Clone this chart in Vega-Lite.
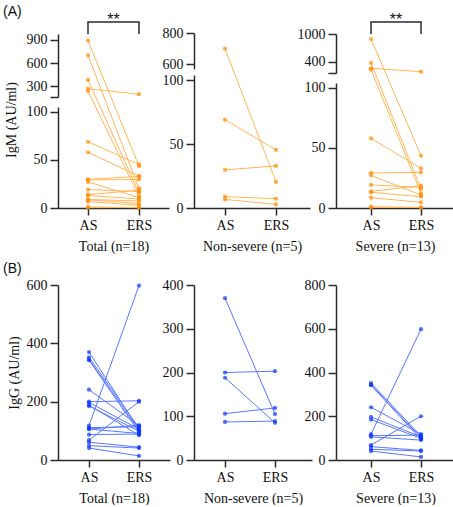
{
  "$schema": "https://vega.github.io/schema/vega-lite/v6.json",
  "background": "white",
  "padding": {"left": 3, "top": 4, "right": 0, "bottom": 0},
  "bounds": "flush",
  "columns": 3,
  "spacing": {"row": 77, "column": 24},
  "datasets": {
    "igm": [
      {"g":"NS","id":"N1","t":"AS","v":700},{"g":"NS","id":"N1","t":"ERS","v":20.4},
      {"g":"NS","id":"N2","t":"AS","v":69},{"g":"NS","id":"N2","t":"ERS","v":45.4},
      {"g":"NS","id":"N3","t":"AS","v":29.8},{"g":"NS","id":"N3","t":"ERS","v":32.9},
      {"g":"NS","id":"N4","t":"AS","v":8.9},{"g":"NS","id":"N4","t":"ERS","v":7.3},
      {"g":"NS","id":"N5","t":"AS","v":6.7},{"g":"NS","id":"N5","t":"ERS","v":2.8},
      {"g":"S","id":"S1","t":"AS","v":892},{"g":"S","id":"S1","t":"ERS","v":43.6},
      {"g":"S","id":"S2","t":"AS","v":380},{"g":"S","id":"S2","t":"ERS","v":15.8},
      {"g":"S","id":"S3","t":"AS","v":265},{"g":"S","id":"S3","t":"ERS","v":193},
      {"g":"S","id":"S4","t":"AS","v":235},{"g":"S","id":"S4","t":"ERS","v":12.2},
      {"g":"S","id":"S5","t":"AS","v":58},{"g":"S","id":"S5","t":"ERS","v":33.1},
      {"g":"S","id":"S6","t":"AS","v":29.2},{"g":"S","id":"S6","t":"ERS","v":29.7},
      {"g":"S","id":"S7","t":"AS","v":27.2},{"g":"S","id":"S7","t":"ERS","v":10.8},
      {"g":"S","id":"S8","t":"AS","v":19.2},{"g":"S","id":"S8","t":"ERS","v":17.2},
      {"g":"S","id":"S9","t":"AS","v":13.9},{"g":"S","id":"S9","t":"ERS","v":18.6},
      {"g":"S","id":"S10","t":"AS","v":13.1},{"g":"S","id":"S10","t":"ERS","v":9.4},
      {"g":"S","id":"S11","t":"AS","v":8.6},{"g":"S","id":"S11","t":"ERS","v":4.7},
      {"g":"S","id":"S12","t":"AS","v":1.1},{"g":"S","id":"S12","t":"ERS","v":0.3},
      {"g":"S","id":"S13","t":"AS","v":0.4},{"g":"S","id":"S13","t":"ERS","v":0.6}
    ],
    "igg": [
      {"g":"NS","id":"N1","t":"AS","v":370},{"g":"NS","id":"N1","t":"ERS","v":105},
      {"g":"NS","id":"N2","t":"AS","v":200},{"g":"NS","id":"N2","t":"ERS","v":203},
      {"g":"NS","id":"N3","t":"AS","v":188},{"g":"NS","id":"N3","t":"ERS","v":85},
      {"g":"NS","id":"N4","t":"AS","v":106},{"g":"NS","id":"N4","t":"ERS","v":119},
      {"g":"NS","id":"N5","t":"AS","v":87},{"g":"NS","id":"N5","t":"ERS","v":89},
      {"g":"S","id":"S1","t":"AS","v":352},{"g":"S","id":"S1","t":"ERS","v":110},
      {"g":"S","id":"S2","t":"AS","v":345},{"g":"S","id":"S2","t":"ERS","v":102},
      {"g":"S","id":"S3","t":"AS","v":342},{"g":"S","id":"S3","t":"ERS","v":95},
      {"g":"S","id":"S4","t":"AS","v":241},{"g":"S","id":"S4","t":"ERS","v":118},
      {"g":"S","id":"S5","t":"AS","v":197},{"g":"S","id":"S5","t":"ERS","v":106},
      {"g":"S","id":"S6","t":"AS","v":185},{"g":"S","id":"S6","t":"ERS","v":99},
      {"g":"S","id":"S7","t":"AS","v":118},{"g":"S","id":"S7","t":"ERS","v":598},
      {"g":"S","id":"S8","t":"AS","v":111},{"g":"S","id":"S8","t":"ERS","v":114},
      {"g":"S","id":"S9","t":"AS","v":106},{"g":"S","id":"S9","t":"ERS","v":91},
      {"g":"S","id":"S10","t":"AS","v":68},{"g":"S","id":"S10","t":"ERS","v":200},
      {"g":"S","id":"S11","t":"AS","v":61},{"g":"S","id":"S11","t":"ERS","v":44},
      {"g":"S","id":"S12","t":"AS","v":49},{"g":"S","id":"S12","t":"ERS","v":41},
      {"g":"S","id":"S13","t":"AS","v":41},{"g":"S","id":"S13","t":"ERS","v":14}
    ],
    "brk": [
      {"p":"Total","t":"AS","v":978,"o":1},{"p":"Total","t":"AS","v":1135,"o":2},
      {"p":"Total","t":"ERS","v":1135,"o":3},{"p":"Total","t":"ERS","v":978,"o":4},
      {"p":"Severe","t":"AS","v":1000,"o":1},{"p":"Severe","t":"AS","v":1257,"o":2},
      {"p":"Severe","t":"ERS","v":1257,"o":3},{"p":"Severe","t":"ERS","v":1000,"o":4}
    ],
    "stars": [
      {"p":"Total","t":"AS","v":1135,"s":"**"},
      {"p":"Severe","t":"AS","v":1257,"s":"**"}
    ]
  },
  "config": {
    "view": {"stroke": null},
    "font": "Liberation Serif",
    "style": {
      "guide-label": {"font": "Liberation Serif", "fontSize": 14, "fill": "#111111"},
      "guide-title": {"font": "Liberation Serif", "fontSize": 14, "fontWeight": "normal", "fill": "#111111"}
    },
    "axis": {"grid": false, "domainColor": "#2b2b2b", "domainWidth": 1.5, "tickColor": "#2b2b2b", "tickWidth": 1.5, "labelFont": "Liberation Serif", "labelFontSize": 14, "labelColor": "#111111", "titleFont": "Liberation Serif", "titleFontSize": 14, "titleFontWeight": "normal", "titleColor": "#111111"},
    "axisY": {"tickSize": 8, "labelPadding": 3, "titlePadding": 5},
    "axisX": {"tickSize": 7, "labelPadding": 3, "labelAngle": 0, "titlePadding": 7},
    "title": {"font": "Liberation Sans", "fontSize": 14, "fontWeight": "normal", "color": "#111111", "anchor": "start", "frame": "bounds"},
    "point": {"filled": true, "size": 18},
    "line": {"strokeWidth": 1}
  },
  "concat": [
    {
      "width": 111, "height": 175,
      "title": {"text": "(A)", "offset": -7, "dx": -1},
      "data": {"name": "igm"},
      "encoding": {
        "x": {"field": "t", "type": "nominal", "sort": ["AS","ERS"], "scale": {"type": "point", "padding": 0.588, "align": 0.5}, "axis": {"title": "Total (n=18)", "labelFont": "Liberation Serif", "labelFontSize": 14}}
      },
      "layer": [
        {"mark": {"type": "line", "color": "#FFB656"}, "encoding": {"detail": {"field": "id"}, "y": {"field": "v", "type": "quantitative", "scale": {"domain": [0,100,105,157,900], "range": [175,79,74,64,7], "nice": false, "zero": false}, "axis": null}}},
        {"mark": {"type": "point", "color": "#FF8A00"}, "encoding": {"y": {"field": "v", "type": "quantitative", "scale": {"domain": [0,100,105,157,900], "range": [175,79,74,64,7], "nice": false, "zero": false}, "axis": null}}},
        {"data": {"name": "brk"}, "transform": [{"filter": "datum.p == 'Total'"}], "mark": {"type": "line", "color": "#2b2b2b", "strokeWidth": 1.5}, "encoding": {"order": {"field": "o", "type": "quantitative"}, "y": {"field": "v", "type": "quantitative", "scale": {"domain": [0,100,105,157,900], "range": [175,79,74,64,7], "nice": false, "zero": false}, "axis": null}}},
        {"data": {"name": "stars"}, "transform": [{"filter": "datum.p == 'Total'"}], "mark": {"type": "text", "font": "Liberation Sans", "fontSize": 16, "dx": 25.5, "dy": 3, "baseline": "alphabetic", "align": "center", "color": "#111111"}, "encoding": {"text": {"field": "s"}, "y": {"field": "v", "type": "quantitative", "scale": {"domain": [0,100,105,157,900], "range": [175,79,74,64,7], "nice": false, "zero": false}, "axis": null}}},
        {"transform": [{"filter": "datum.v <= 100"}], "mark": {"type": "point", "opacity": 0}, "encoding": {"y": {"field": "v", "type": "quantitative", "scale": {"domain": [0,105], "range": [175,74], "nice": false, "zero": false}, "axis": {"orient": "left", "values": [0,50,100], "title": null, "labelFont": "Liberation Serif", "labelFontSize": 14}}}},
        {"transform": [{"filter": "datum.v >= 157"}], "mark": {"type": "point", "opacity": 0}, "encoding": {"y": {"field": "v", "type": "quantitative", "scale": {"domain": [157,978], "range": [64,1], "nice": false, "zero": false}, "axis": {"orient": "left", "values": [157,300,600,900], "labelExpr": "datum.value == 157 ? '' : datum.label", "title": null, "labelFont": "Liberation Serif", "labelFontSize": 14}}}},
        {"transform": [{"filter": "datum.v <= 100"}], "mark": {"type": "point", "opacity": 0}, "encoding": {"y": {"field": "v", "type": "quantitative", "scale": {"domain": [0,900], "range": [175,-2], "nice": false, "zero": false}, "axis": {"orient": "left", "labels": false, "ticks": false, "domain": false, "titlePadding": 40, "title": "IgM (AU/ml)"}}}}
      ],
      "resolve": {"scale": {"y": "independent"}}
    },
    {
      "width": 116, "height": 175,
      "data": {"name": "igm"},
      "transform": [{"filter": "datum.g == 'NS'"}],
      "encoding": {
        "x": {"field": "t", "type": "nominal", "sort": ["AS","ERS"], "scale": {"type": "point", "padding": 0.637, "align": 0.477}, "axis": {"title": "Non-severe (n=5)", "labelFont": "Liberation Serif", "labelFontSize": 14}}
      },
      "layer": [
        {"mark": {"type": "line", "color": "#FFB656"}, "encoding": {"detail": {"field": "id"}, "y": {"field": "v", "type": "quantitative", "scale": {"domain": [0,100,104,568,800], "range": [175,47,42,36,0], "nice": false, "zero": false}, "axis": null}}},
        {"mark": {"type": "point", "color": "#FF8A00"}, "encoding": {"y": {"field": "v", "type": "quantitative", "scale": {"domain": [0,100,104,568,800], "range": [175,47,42,36,0], "nice": false, "zero": false}, "axis": null}}},
        {"transform": [{"filter": "datum.v <= 100"}], "mark": {"type": "point", "opacity": 0}, "encoding": {"y": {"field": "v", "type": "quantitative", "scale": {"domain": [0,104], "range": [175,42], "nice": false, "zero": false}, "axis": {"orient": "left", "values": [0,50,100], "title": null, "labelFont": "Liberation Serif", "labelFontSize": 14}}}},
        {"transform": [{"filter": "datum.v >= 568"}], "mark": {"type": "point", "opacity": 0}, "encoding": {"y": {"field": "v", "type": "quantitative", "scale": {"domain": [568,800], "range": [36,0], "nice": false, "zero": false}, "axis": {"orient": "left", "values": [600,800], "title": null, "labelFont": "Liberation Serif", "labelFontSize": 14}}}}
      ],
      "resolve": {"scale": {"y": "independent"}}
    },
    {
      "width": 118, "height": 175,
      "data": {"name": "igm"},
      "transform": [{"filter": "datum.g == 'S'"}],
      "encoding": {
        "x": {"field": "t", "type": "nominal", "sort": ["AS","ERS"], "scale": {"type": "point", "padding": 0.68, "align": 0.515}, "axis": {"title": "Severe (n=13)", "labelFont": "Liberation Serif", "labelFontSize": 14}}
      },
      "layer": [
        {"mark": {"type": "line", "color": "#FFB656"}, "encoding": {"detail": {"field": "id"}, "y": {"field": "v", "type": "quantitative", "scale": {"domain": [0,100,104,164,1000], "range": [175,55,50,40,1], "nice": false, "zero": false}, "axis": null}}},
        {"mark": {"type": "point", "color": "#FF8A00"}, "encoding": {"y": {"field": "v", "type": "quantitative", "scale": {"domain": [0,100,104,164,1000], "range": [175,55,50,40,1], "nice": false, "zero": false}, "axis": null}}},
        {"data": {"name": "brk"}, "transform": [{"filter": "datum.p == 'Severe'"}], "mark": {"type": "line", "color": "#2b2b2b", "strokeWidth": 1.5}, "encoding": {"order": {"field": "o", "type": "quantitative"}, "y": {"field": "v", "type": "quantitative", "scale": {"domain": [0,100,104,164,1000], "range": [175,55,50,40,1], "nice": false, "zero": false}, "axis": null}}},
        {"data": {"name": "stars"}, "transform": [{"filter": "datum.p == 'Severe'"}], "mark": {"type": "text", "font": "Liberation Sans", "fontSize": 16, "dx": 25, "dy": 3, "baseline": "alphabetic", "align": "center", "color": "#111111"}, "encoding": {"text": {"field": "s"}, "y": {"field": "v", "type": "quantitative", "scale": {"domain": [0,100,104,164,1000], "range": [175,55,50,40,1], "nice": false, "zero": false}, "axis": null}}},
        {"transform": [{"filter": "datum.v <= 100"}], "mark": {"type": "point", "opacity": 0}, "encoding": {"y": {"field": "v", "type": "quantitative", "scale": {"domain": [0,104], "range": [175,50], "nice": false, "zero": false}, "axis": {"orient": "left", "values": [0,50,100], "title": null, "labelFont": "Liberation Serif", "labelFontSize": 14}}}},
        {"transform": [{"filter": "datum.v >= 164"}], "mark": {"type": "point", "opacity": 0}, "encoding": {"y": {"field": "v", "type": "quantitative", "scale": {"domain": [164,1000], "range": [40,1], "nice": false, "zero": false}, "axis": {"orient": "left", "values": [164,400,1000], "format": "d", "labelExpr": "datum.value == 164 ? '' : datum.label", "title": null, "labelFont": "Liberation Serif", "labelFontSize": 14}}}}
      ],
      "resolve": {"scale": {"y": "independent"}}
    },
    {
      "width": 112, "height": 175,
      "title": {"text": "(B)", "offset": 2, "dx": -4},
      "data": {"name": "igg"},
      "encoding": {
        "x": {"field": "t", "type": "nominal", "sort": ["AS","ERS"], "scale": {"type": "point", "padding": 0.62, "align": 0.5}, "axis": {"title": "Total (n=18)", "labelFont": "Liberation Serif", "labelFontSize": 14}},
        "y": {"field": "v", "type": "quantitative", "scale": {"domain": [0,600], "nice": false, "zero": false}, "axis": {"values": [0,200,400,600], "title": "IgG (AU/ml)", "labelFont": "Liberation Serif", "labelFontSize": 14}}
      },
      "layer": [
        {"mark": {"type": "line", "color": "#5A78FF"}, "encoding": {"detail": {"field": "id"}}},
        {"mark": {"type": "point", "color": "#0A36FF"}}
      ]
    },
    {
      "width": 118, "height": 175,
      "data": {"name": "igg"},
      "transform": [{"filter": "datum.g == 'NS'"}],
      "encoding": {
        "x": {"field": "t", "type": "nominal", "sort": ["AS","ERS"], "scale": {"type": "point", "padding": 0.68, "align": 0.456}, "axis": {"title": "Non-severe (n=5)", "labelFont": "Liberation Serif", "labelFontSize": 14}},
        "y": {"field": "v", "type": "quantitative", "scale": {"domain": [0,400], "nice": false, "zero": false}, "axis": {"values": [0,100,200,300,400], "title": null, "labelFont": "Liberation Serif", "labelFontSize": 14}}
      },
      "layer": [
        {"mark": {"type": "line", "color": "#5A78FF"}, "encoding": {"detail": {"field": "id"}}},
        {"mark": {"type": "point", "color": "#0A36FF"}}
      ]
    },
    {
      "width": 119, "height": 175,
      "data": {"name": "igg"},
      "transform": [{"filter": "datum.g == 'S'"}],
      "encoding": {
        "x": {"field": "t", "type": "nominal", "sort": ["AS","ERS"], "scale": {"type": "point", "padding": 0.69, "align": 0.507}, "axis": {"title": "Severe (n=13)", "labelFont": "Liberation Serif", "labelFontSize": 14}},
        "y": {"field": "v", "type": "quantitative", "scale": {"domain": [0,800], "nice": false, "zero": false}, "axis": {"values": [0,200,400,600,800], "title": null, "labelFont": "Liberation Serif", "labelFontSize": 14}}
      },
      "layer": [
        {"mark": {"type": "line", "color": "#5A78FF"}, "encoding": {"detail": {"field": "id"}}},
        {"mark": {"type": "point", "color": "#0A36FF"}}
      ]
    }
  ]
}
